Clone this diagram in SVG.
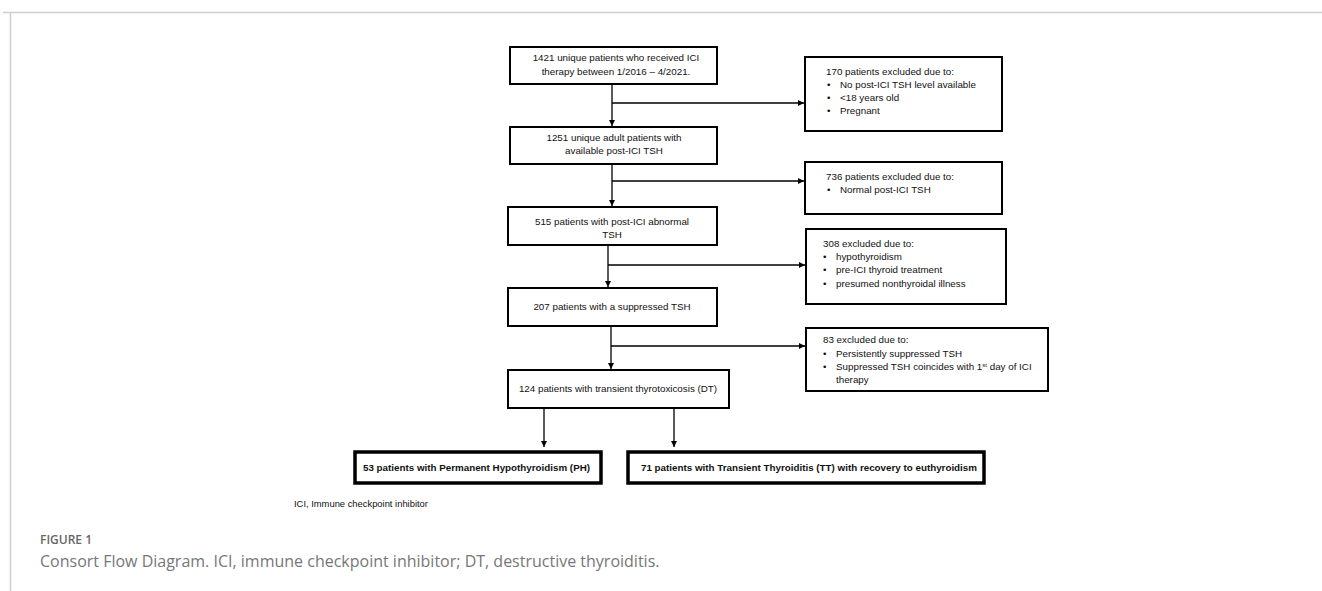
<svg xmlns="http://www.w3.org/2000/svg" width="1322" height="591" viewBox="0 0 1322 591">
<style>
.box{fill:#fff;stroke:#000;stroke-width:2}
.bold{fill:#fff;stroke:#000;stroke-width:3.5}
.t{font-family:"Liberation Sans",Arial,sans-serif;font-size:9.8px;fill:#111}
.tb{font-family:"Liberation Sans",Arial,sans-serif;font-size:9.8px;font-weight:bold;fill:#111}
.c{stroke:#000;stroke-width:1.3;fill:none}
.frame{stroke:#cfcfcf;stroke-width:1.5;fill:none}
.cap1{font-family:"Open Sans",sans-serif;font-size:12px;font-weight:600;fill:#666}
.cap2{font-family:"Open Sans",sans-serif;font-size:16px;fill:#777}
</style>
<defs>
<marker id="ah" viewBox="0 0 10 10" refX="10" refY="5" markerWidth="6" markerHeight="6" markerUnits="userSpaceOnUse" orient="auto">
<path d="M0,0 L10,5 L0,10 z" fill="#000"/>
</marker>
</defs>
<rect width="1322" height="591" fill="#fff"/>
<path class="frame" d="M3,12.5 H1322 M10.5,12.5 V591"/>

<g id="connectors">
<path class="c" d="M612,84 V126" marker-end="url(#ah)"/>
<path class="c" d="M612,103 H804" marker-end="url(#ah)"/>
<path class="c" d="M612,164 V206" marker-end="url(#ah)"/>
<path class="c" d="M612,181 H804" marker-end="url(#ah)"/>
<path class="c" d="M608,245 V287" marker-end="url(#ah)"/>
<path class="c" d="M608,265 H805" marker-end="url(#ah)"/>
<path class="c" d="M611,326 V369" marker-end="url(#ah)"/>
<path class="c" d="M611,346 H805" marker-end="url(#ah)"/>
<path class="c" d="M544,408 V447" marker-end="url(#ah)"/>
<path class="c" d="M674,408 V447" marker-end="url(#ah)"/>
</g>

<g id="n1421">
<rect class="box" x="510" y="47" width="207" height="37"/>
<text class="t" x="616" y="61" text-anchor="middle">1421 unique patients who received ICI</text>
<text class="t" x="616" y="75" text-anchor="middle">therapy between 1/2016 – 4/2021.</text>
</g>
<g id="n170">
<rect class="box" x="805" y="57" width="197" height="74"/>
<text class="t" x="826" y="75">170 patients excluded due to:</text>
<text class="t" x="827" y="88">•</text><text class="t" x="840" y="88">No post-ICI TSH level available</text>
<text class="t" x="827" y="101">•</text><text class="t" x="840" y="101">&lt;18 years old</text>
<text class="t" x="827" y="114">•</text><text class="t" x="840" y="114">Pregnant</text>
</g>
<g id="n1251">
<rect class="box" x="510" y="127" width="207" height="37"/>
<text class="t" x="614" y="141" text-anchor="middle">1251 unique adult patients with</text>
<text class="t" x="614" y="154" text-anchor="middle">available post-ICI TSH</text>
</g>
<g id="n736">
<rect class="box" x="805" y="162" width="197" height="52"/>
<text class="t" x="826" y="180">736 patients excluded due to:</text>
<text class="t" x="827" y="193">•</text><text class="t" x="840" y="193">Normal post-ICI TSH</text>
</g>
<g id="n515">
<rect class="box" x="508" y="207" width="209" height="38"/>
<text class="t" x="612" y="225" text-anchor="middle">515 patients with post-ICI abnormal</text>
<text class="t" x="612" y="238" text-anchor="middle">TSH</text>
</g>
<g id="n308">
<rect class="box" x="806" y="229" width="200" height="75"/>
<text class="t" x="823" y="247">308 excluded due to:</text>
<text class="t" x="823" y="260">•</text><text class="t" x="836" y="260">hypothyroidism</text>
<text class="t" x="823" y="273">•</text><text class="t" x="836" y="273">pre-ICI thyroid treatment</text>
<text class="t" x="823" y="287">•</text><text class="t" x="836" y="287">presumed nonthyroidal illness</text>
</g>
<g id="n207">
<rect class="box" x="508" y="288" width="209" height="38"/>
<text class="t" x="612" y="310" text-anchor="middle">207 patients with a suppressed TSH</text>
</g>
<g id="n83">
<rect class="box" x="806" y="328" width="242" height="63"/>
<text class="t" x="823" y="343">83 excluded due to:</text>
<text class="t" x="823" y="357">•</text><text class="t" x="836" y="357">Persistently suppressed TSH</text>
<text class="t" x="823" y="370">•</text><text class="t" x="836" y="370">Suppressed TSH coincides with 1<tspan font-size="6" dy="-3.5">st</tspan><tspan dy="3.5"> day of ICI</tspan></text>
<text class="t" x="836" y="383">therapy</text>
</g>
<g id="n124">
<rect class="box" x="508" y="370" width="221" height="38"/>
<text class="t" x="618" y="392" text-anchor="middle">124 patients with transient thyrotoxicosis (DT)</text>
</g>
<g id="nPH">
<rect class="bold" x="355" y="452" width="246" height="31"/>
<text class="tb" x="363" y="471" textLength="227" lengthAdjust="spacingAndGlyphs">53 patients with Permanent Hypothyroidism (PH)</text>
</g>
<g id="nTT">
<rect class="bold" x="628" y="452" width="356" height="31"/>
<text class="tb" x="641" y="471" textLength="336" lengthAdjust="spacingAndGlyphs">71 patients with Transient Thyroiditis (TT) with recovery to euthyroidism</text>
</g>
<text class="t" x="294" y="507" style="font-size:9.4px">ICI, Immune checkpoint inhibitor</text>
<text class="cap1" x="40" y="544">FIGURE 1</text>
<text class="cap2" x="40" y="567">Consort Flow Diagram. ICI, immune checkpoint inhibitor; DT, destructive thyroiditis.</text>
</svg>
